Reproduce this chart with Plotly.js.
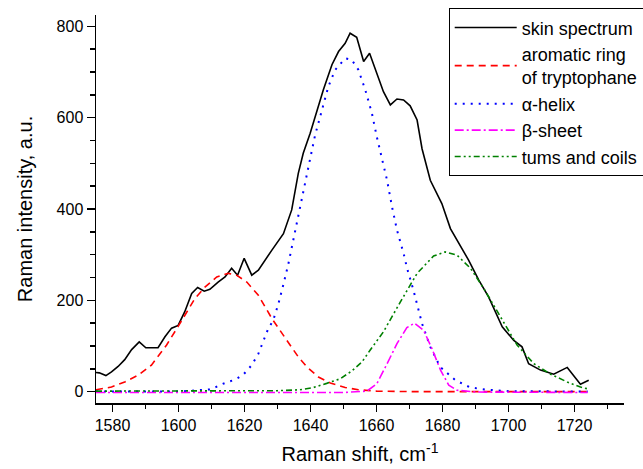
<!DOCTYPE html>
<html>
<head>
<meta charset="utf-8">
<script src="https://cdn.plot.ly/plotly-3.0.1.min.js"></script>
<style>html,body{margin:0;padding:0;background:#fff;}#chart{width:643px;height:469px;}</style>
</head>
<body>
<div id="chart"></div>
<script>
// Skin spectrum
const skinX = [1575, 1576, 1578, 1579.7, 1581.7, 1583.7, 1585.8, 1588.1, 1590.1, 1593.8, 1595.9, 1597.9, 1599.9, 1601.9, 1604, 1605.8, 1607.8, 1609.5, 1612, 1614.1, 1616.1, 1617.9, 1619.9, 1622.2, 1624.2, 1626.2, 1628.3, 1631.8, 1634.3, 1636.3, 1637.8, 1639.9, 1641.9, 1643.9, 1646.5, 1648.5, 1650.5, 1652, 1654, 1656.1, 1657.9, 1660.1, 1662.1, 1664.2, 1666.2, 1668.2, 1670.2, 1672.3, 1673.8, 1676.3, 1679.8, 1682.4, 1685.4, 1687.9, 1691, 1694, 1698.1, 1701.6, 1704.1, 1706.1, 1709.7, 1713.7, 1717.8, 1721.8, 1724.3];
const skinY = [42, 41, 35, 43, 55, 70, 92, 109, 96, 96, 120, 139, 145, 175, 215, 228, 220, 224, 240, 251, 270, 255, 292, 255, 266, 288, 310, 346, 398, 478, 522, 566, 613, 661, 716, 745, 763, 785, 776, 723, 741, 697, 657, 628, 641, 639, 626, 595, 532, 463, 412, 357, 321, 288, 244, 207, 142, 112, 98, 61, 47, 38, 53, 16, 25];

// Aromatic ring of tryptophane
const aromX = [1575, 1579.7, 1583.7, 1587.8, 1591.8, 1593.8, 1596.4, 1599.9, 1602.5, 1605, 1608, 1611.6, 1615.1, 1617.6, 1620.7, 1624.2, 1628.3, 1631.3, 1633.8, 1636.3, 1638.9, 1642.4, 1646, 1650.5, 1654.5, 1660, 1670, 1690, 1724];
const aromY = [4, 10, 21, 36, 58, 76, 102, 143, 175, 204, 229, 251, 259, 255, 240, 211, 160, 127, 102, 76, 54, 32, 19, 9, 4, 1, 0, 0, 0];

// alpha-helix
const helixX = [1575, 1600, 1610, 1612.4, 1614.9, 1617.1, 1619.5, 1622.2, 1624.2, 1625.7, 1627.2, 1628.7, 1630.3, 1631.8, 1633.3, 1635.3, 1637.4, 1639.4, 1641.4, 1643.4, 1645.4, 1647.5, 1650.5, 1652.5, 1654.5, 1656.6, 1658.6, 1660.1, 1661.6, 1663.2, 1664.7, 1666.2, 1668.2, 1669.2, 1671.2, 1673.8, 1676.3, 1679.3, 1683.9, 1688.4, 1693.5, 1700, 1724];
const helixY = [0, 0, 5, 14, 21, 26, 36, 58, 83, 112, 138, 156, 193, 235, 280, 350, 420, 493, 562, 617, 668, 705, 730, 727, 705, 661, 610, 558, 514, 463, 405, 354, 303, 272, 222, 149, 98, 54, 25, 9, 4, 1, 0];

// beta-sheet
const sheetX = [1575, 1650, 1657.1, 1660.1, 1663.2, 1666.2, 1669.2, 1671.5, 1674.3, 1676.8, 1679.4, 1681.9, 1684.4, 1690, 1724];
const sheetY = [-2, -2, 1, 17, 61, 105, 140, 150, 134, 94, 47, 14, 3, -1, -2];

// turns and coils
const coilX = [1575, 1620, 1630, 1636.8, 1640.9, 1644.9, 1649, 1652.5, 1655.6, 1658.1, 1662.1, 1667.2, 1672.3, 1677.3, 1680.8, 1684.4, 1688.5, 1692.5, 1697.5, 1702.6, 1707.7, 1712.8, 1717.8, 1721.8, 1724];
const coilY = [1, 1, 2, 4, 9, 18, 28, 45, 65, 91, 131, 196, 259, 297, 306, 299, 270, 226, 164, 102, 61, 38, 21, 10, 6];

const names = ["skin spectrum", "aromatic ring<br>of tryptophane", "\u03B1-helix", "\u03B2-sheet", "tums and coils"];

const FONT = "Arial, 'Liberation Sans', sans-serif";

const traces = [
  {x: skinX, y: skinY, name: names[0], mode: "lines", line: {color: "#000000", width: 1.6}},
  {x: aromX, y: aromY, name: names[1], mode: "lines", line: {color: "#ff0000", width: 1.6, dash: "7px,5px"}},
  {x: helixX, y: helixY, name: names[2], mode: "lines", line: {color: "#0000ff", width: 2, dash: "2px,6px"}},
  {x: sheetX, y: sheetY, name: names[3], mode: "lines", line: {color: "#ff00ff", width: 1.6, dash: "9px,3px,2px,3px"}},
  {x: coilX, y: coilY, name: names[4], mode: "lines", line: {color: "#008000", width: 1.6, dash: "6px,3px,2px,3px,2px,3px"}}
];

const layout = {
  width: 643, height: 469,
  margin: {l: 96, r: 19, t: 15, b: 66, autoexpand: false},
  paper_bgcolor: "#ffffff", plot_bgcolor: "#ffffff",
  font: {family: FONT, color: "#000000", size: 16},
  showlegend: true,
  legend: {
    x: 0.668, y: 1.0173, xanchor: "left", yanchor: "top",
    bgcolor: "#ffffff", bordercolor: "#000000", borderwidth: 1,
    font: {family: FONT, size: 18, color: "#000000"},
    itemwidth: 62
  },
  xaxis: {
    range: [1575, 1735], dtick: 20, tick0: 1580,
    showline: true, linecolor: "#000000", linewidth: 1.5,
    ticks: "outside", ticklen: 7, tickwidth: 1.5, tickcolor: "#000000",
    minor: {dtick: 10, ticks: "outside", ticklen: 4, tickwidth: 1.5, tickcolor: "#000000", showgrid: false},
    showgrid: false, zeroline: false,
    tickfont: {family: FONT, size: 16, color: "#000000"},
    title: {text: "Raman shift, cm<sup>-1</sup>", font: {family: FONT, size: 20, color: "#000000"}, standoff: 14}
  },
  yaxis: {
    range: [-25, 825], dtick: 200, tick0: 0,
    showline: true, linecolor: "#000000", linewidth: 1.5,
    ticks: "outside", ticklen: 8, tickwidth: 1.5, tickcolor: "#000000",
    minor: {dtick: 50, ticks: "outside", ticklen: 5, tickwidth: 1.5, tickcolor: "#000000", showgrid: false},
    showgrid: false, zeroline: false,
    tickfont: {family: FONT, size: 16, color: "#000000"},
    title: {text: "Raman intensity, a.u.", font: {family: FONT, size: 20, color: "#000000"}, standoff: 18}
  }
};

Plotly.newPlot("chart", traces, layout, {displayModeBar: false, staticPlot: true});
</script>
</body>
</html>
